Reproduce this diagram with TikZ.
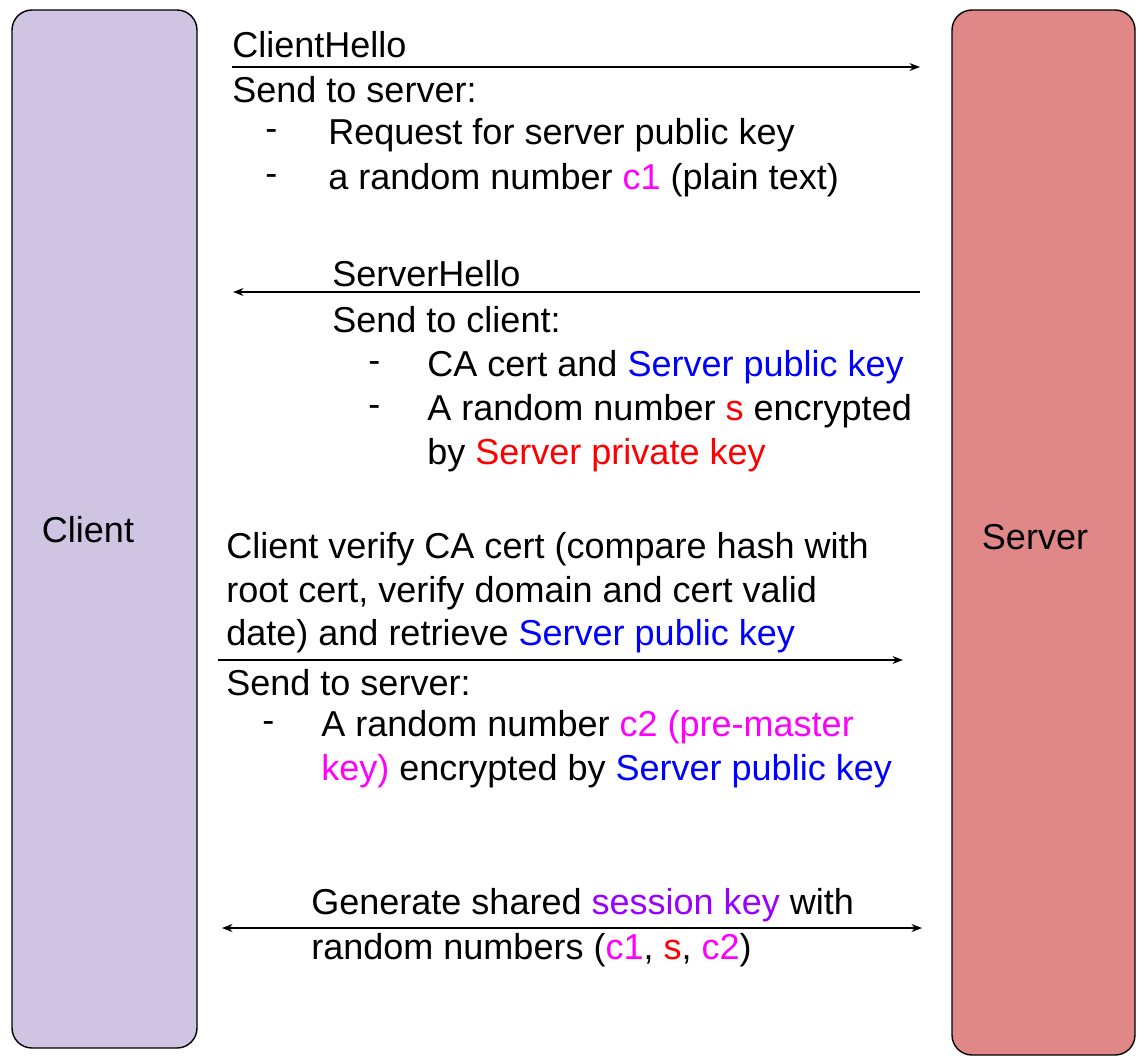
\documentclass[tikz,border=0pt]{standalone}
\usepackage{fontspec}
\setmainfont{Liberation Sans}
\usetikzlibrary{arrows.meta}
\definecolor{clientfill}{HTML}{D0C4E3}
\definecolor{serverfill}{HTML}{E08888}
\definecolor{cmag}{HTML}{FF00FF}
\definecolor{cblue}{HTML}{0000FF}
\definecolor{cred}{HTML}{FF0000}
\definecolor{cpurple}{HTML}{9900FF}
\begin{document}
\begin{tikzpicture}[x=0.02cm,y=-0.02cm]
    \tikzstyle{party} = [draw = black, line width = 0.8pt, rounded corners = 0.4cm]
    \tikzstyle{txt} = [anchor = west, inner sep = 0pt, font = \fontsize{20.5}{24}\selectfont]
    \tikzstyle{msg} = [line width = 0.7pt, -{Stealth[length=6pt,width=4.5pt]}]
    \useasboundingbox (0,0) rectangle (1142,1062);

    % parties
    \draw[party, fill = clientfill] (12,10) rectangle (197,1048);
    \draw[party, fill = serverfill] (952,10) rectangle (1135,1055);
    \node[txt, anchor = center](Client) at (88,530){Client};
    \node[txt, anchor = center](Server) at (1035,537){Server};

    % ClientHello
    \node[txt](CH) at (232,45){ClientHello};
    \coordinate (CHa) at (232,67);
    \coordinate (CHb) at (920,67);
    \draw[msg](CHa)--(CHb);
    \node[txt](CH1) at (232,90){Send to server:};
    \node[txt](CH2d) at (265,135){-};
    \node[txt](CH2) at (328,135){Request for server public key};
    \node[txt](CH3d) at (265,180){-};
    \node[txt](CH3) at (328,180){a random number \textcolor{cmag}{c1} (plain text)};

    % ServerHello
    \node[txt](SH) at (332,274){ServerHello};
    \coordinate (SHa) at (920,292);
    \coordinate (SHb) at (233,292);
    \draw[msg](SHa)--(SHb);
    \node[txt](SH1) at (332,320){Send to client:};
    \node[txt](SH2d) at (368,367){-};
    \node[txt](SH2) at (427,367){CA cert and \textcolor{cblue}{Server public key}};
    \node[txt](SH3d) at (368,411){-};
    \node[txt](SH3) at (427,411){A random number \textcolor{cred}{s} encrypted};
    \node[txt](SH4) at (427,455){by \textcolor{cred}{Server private key}};

    % verify and pre-master key
    \node[txt](CV1) at (226,549){Client verify CA cert (compare hash with};
    \node[txt](CV2) at (226,593){root cert, verify domain and cert valid};
    \node[txt](CV3) at (226,636){date) and retrieve \textcolor{cblue}{Server public key}};
    \coordinate (CVa) at (218,660);
    \coordinate (CVb) at (903,660);
    \draw[msg](CVa)--(CVb);
    \node[txt](PM1) at (226,683){Send to server:};
    \node[txt](PM2d) at (262,727){-};
    \node[txt](PM2) at (321,727){A random number \textcolor{cmag}{c2 (pre-master}};
    \node[txt](PM3) at (321,771){\textcolor{cmag}{key)} encrypted by \textcolor{cblue}{Server public key}};

    % session key
    \node[txt](SK1) at (311,905){Generate shared \textcolor{cpurple}{session key} with};
    \coordinate (SKa) at (222,928);
    \coordinate (SKb) at (922,928);
    \draw[msg, {Stealth[length=6pt,width=4.5pt]}-{Stealth[length=6pt,width=4.5pt]}](SKa)--(SKb);
    \node[txt](SK2) at (311,950){random numbers (\textcolor{cmag}{c1}, \textcolor{cred}{s}, \textcolor{cmag}{c2})};
\end{tikzpicture}
\end{document}
